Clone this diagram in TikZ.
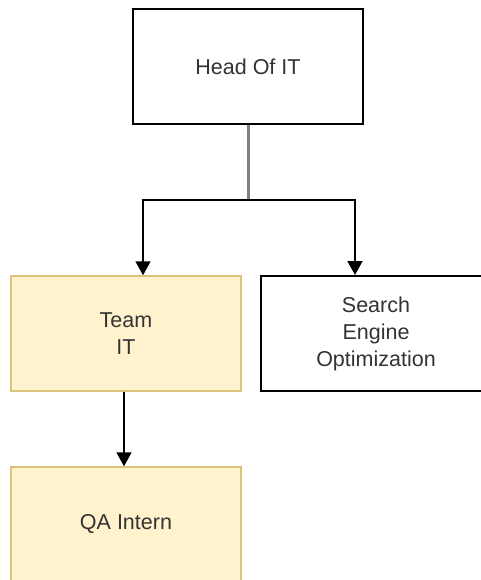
\documentclass[tikz,border=0pt]{standalone}
\usepackage{fontspec}
\setmainfont{Liberation Sans}
\usetikzlibrary{arrows.meta}
\definecolor{fillY}{HTML}{FFF2CC}
\definecolor{drawY}{HTML}{DCC27A}
\definecolor{txt}{HTML}{333333}
\definecolor{lineG}{HTML}{808080}
\begin{document}
\begin{tikzpicture}[x=1pt,y=-1pt,
  box/.style={draw=black, line width=2pt, fill=white, minimum width=230pt, minimum height=115pt,
    inner sep=0pt, align=center, text=txt, font=\fontsize{21.5}{27}\selectfont},
  ybox/.style={box, draw=drawY, line width=1.5pt, fill=fillY},
  conn/.style={draw=black, line width=1.8pt, -{Triangle[length=14pt,width=15pt]}}
]
\useasboundingbox (0,0) rectangle (480,580);
\node[box] (head) at (248,66.5) {Head Of IT};
\node[ybox] (team) at (126,333.5) {Team\\IT};
\node[box] (seo) at (376,333.5) {Search\\Engine\\Optimization};
\node[ybox] (qa) at (126,524.5) {QA Intern};
\coordinate (split) at (248,200);
\draw[lineG, line width=3pt] (head.south) -- (split);
\draw[conn] (split) -| ([xshift=17pt]team.north);
\draw[conn] (split) -| ([xshift=-21pt]seo.north);
\draw[conn] ([xshift=-2pt]team.south) -- ([xshift=-2pt]qa.north);
\end{tikzpicture}
\end{document}
